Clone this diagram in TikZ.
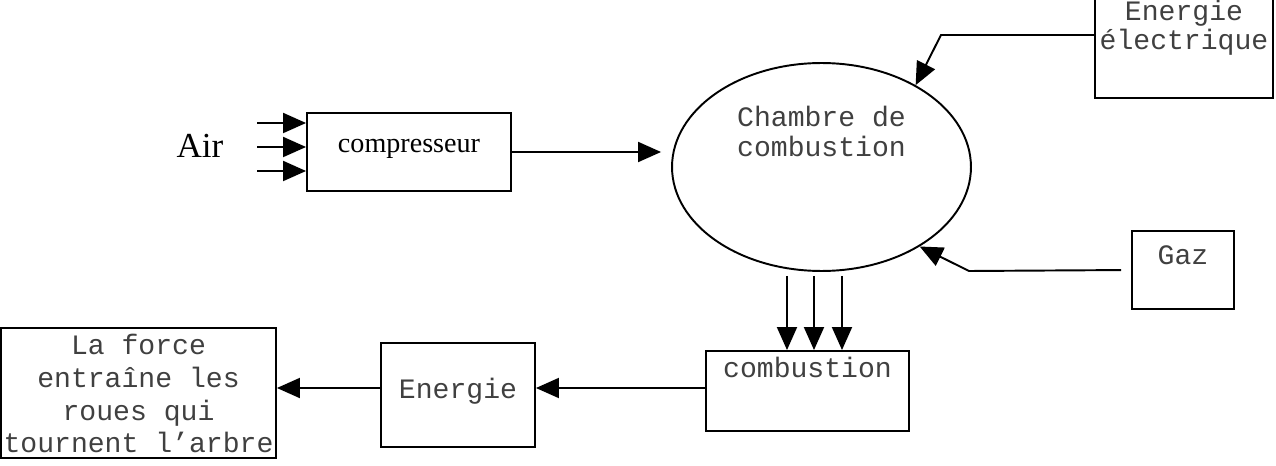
\documentclass[tikz,border=0pt]{standalone}
\usepackage{fontspec}
\setmainfont{Liberation Serif}
\setmonofont{Liberation Mono}
\usetikzlibrary{positioning, arrows.meta, shapes.geometric}

\tikzset{
  box/.style={draw, rectangle, line width=1.1pt, inner xsep=0pt, inner ysep=0pt, font=\ttfamily\fontsize{16}{17}\selectfont, text=black!75, align=center},
  arr/.style={-{Triangle[length=0.46cm, width=0.4cm]}, line width=1.1pt},
}

\begin{document}
\begin{tikzpicture}[x=0.02cm, y=-0.02cm]
        \useasboundingbox (0,0) rectangle (1276,466);
        % Define the nodes
        \node[font=\fontsize{20}{24}\selectfont] (air) at (200,146) {Air};
        \node[box, font=\fontsize{16}{19}\selectfont, text=black, minimum width=4.08cm, text height=0.8cm, text depth=0.76cm] (comp) at (409,152) {compresseur};
        \node[draw, ellipse, line width=1.1pt, inner sep=0pt, minimum width=5.98cm, minimum height=4.16cm, font=\ttfamily\fontsize{16}{17}\selectfont, text=black!75, align=center, text height=1.2cm, text depth=1.64cm] (cham) at (821.5,167) {Chambre de\\combustion};
        \node[box, minimum width=3.56cm, text height=1.8cm, text depth=0.96cm] (elec) at (1184,29) {Energie\\électrique};
        \node[box, minimum width=2.04cm, text height=0.68cm, text depth=0.88cm] (gaz) at (1183,270) {Gaz};
        \node[box, minimum width=4.06cm, text height=0.52cm, text depth=1.08cm] (comb) at (807.5,391) {combustion};
        \node[box, minimum width=3.08cm, text height=1.12cm, text depth=0.96cm] (ener) at (458,395) {Energie};
        \node[box, minimum width=5.5cm, font=\ttfamily\fontsize{16}{18.6}\selectfont, text height=2.5cm, text depth=0.1cm] (force) at (138.5,393) {La force\\entraîne les\\roues qui\\tournent l’arbre};
        
        % Bends and free ends
        \coordinate (e1) at (941,35);
        \coordinate (g1) at (969,271);
        \foreach \y [count=\i] in {123,147,171}
          \coordinate (in\i) at (257,\y);
        
        % Define the edges
        \foreach \i in {1,2,3}
          \draw[arr] (in\i) -- (in\i -| comp.west);
        \draw[arr, shorten >=0.2cm] (comp.east) -- (comp.east -| cham.west);
        
        \draw[arr] (elec.west |- e1) -- (e1) -- (cham.41);
        \draw[arr, shorten <=0.2cm] (gaz.west) -- (g1) -- (cham.-39);
        
        \foreach \x in {787,814,842}
          \draw[arr, shorten <=0.08cm] (cham.south -| \x,0) -- (comb.north -| \x,0);
        
        \draw[arr] ([yshift=0.06cm]comb.west) -- ([yshift=0.06cm]comb.west -| ener.east);
        \draw[arr] ([yshift=0.14cm]ener.west) -- ([yshift=0.14cm]ener.west -| force.east);
    \end{tikzpicture}
\end{document}
